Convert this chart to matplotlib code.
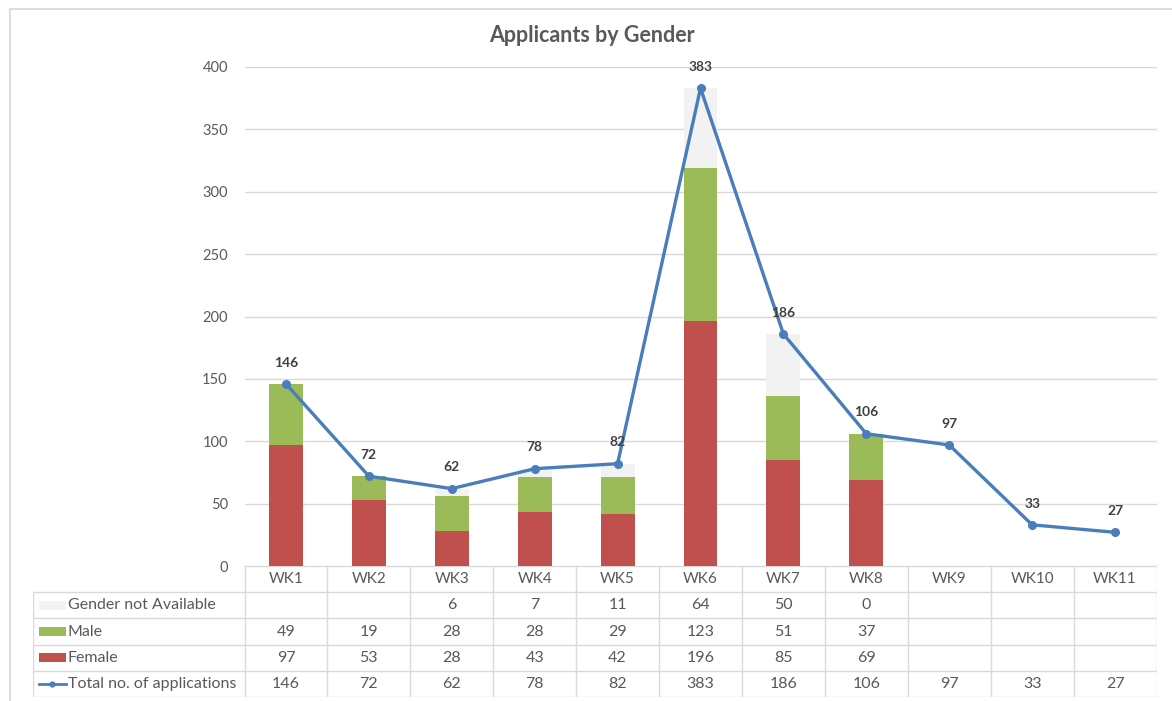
#!/usr/bin/env python3
"""Applicants by gender per week: stacked bars, total line and a data table."""
import matplotlib

matplotlib.use("Agg")
import matplotlib.pyplot as plt
from matplotlib.lines import Line2D
from matplotlib.patches import Rectangle

weeks = ["WK1", "WK2", "WK3", "WK4", "WK5", "WK6", "WK7", "WK8", "WK9", "WK10", "WK11"]
female = [97, 53, 28, 43, 42, 196, 85, 69, None, None, None]
male = [49, 19, 28, 28, 29, 123, 51, 37, None, None, None]
gender_na = [None, None, 6, 7, 11, 64, 50, 0, None, None, None]
total = [146, 72, 62, 78, 82, 383, 186, 106, 97, 33, 27]

C_FEMALE = "#C0504D"
C_MALE = "#9BBB59"
C_NA = "#F2F2F2"
C_LINE = "#4A7EBB"
C_TEXT = "#595959"
C_GRID = "#D9D9D9"

plt.rcParams["font.family"] = ["Lato", "DejaVu Sans"]

W, H = 1172, 701
fig = plt.figure(figsize=(W / 100, H / 100), dpi=100)

# chart frame: only the top and left edges fall inside the crop
fig.add_artist(Line2D([10 / W, 1], [(H - 9) / H, (H - 9) / H], transform=fig.transFigure,
                      color="#DCDCDC", linewidth=1.5))
fig.add_artist(Line2D([10 / W, 10 / W], [0, (H - 9) / H], transform=fig.transFigure,
                      color="#DCDCDC", linewidth=1.5))

# plot area, in pixel geometry of the reference
px_left, px_right, px_bottom, px_top = 244.5, 1156.5, 566, 67
ax = fig.add_axes([px_left / W, (H - px_bottom) / H,
                   (px_right - px_left) / W, (px_bottom - px_top) / H])

x = list(range(len(weeks)))
bar_w = 0.41
f_vals = [v or 0 for v in female]
m_vals = [v or 0 for v in male]
n_vals = [v or 0 for v in gender_na]
ax.bar(x, f_vals, bar_w, color=C_FEMALE, zorder=2)
ax.bar(x, m_vals, bar_w, bottom=f_vals, color=C_MALE, zorder=2)
ax.bar(x, n_vals, bar_w, bottom=[a + b for a, b in zip(f_vals, m_vals)], color=C_NA, zorder=2)
ax.plot(x, total, color=C_LINE, linewidth=2.4, marker="o", markersize=5.5, zorder=3)
for xi, t in zip(x, total):
    ax.annotate(str(t), (xi, t), xytext=(0, 11), textcoords="offset points",
                ha="center", va="bottom", fontsize=10, fontweight="bold", color="#404040")

ax.set_xlim(-0.5, len(weeks) - 0.5)
ax.set_ylim(0, 400)
ax.set_yticks(range(0, 401, 50))
ax.set_xticks([])
ax.tick_params(axis="y", length=0, labelsize=10.5, labelcolor=C_TEXT, pad=12)
ax.grid(True, axis="y", color=C_GRID, linewidth=1, zorder=0)
for s in ax.spines.values():
    s.set_visible(False)

fig.text(592 / W, (H - 36) / H, "Applicants by Gender", ha="center", va="center",
         fontsize=15.5, fontweight="bold", color=C_TEXT)

# data table below the plot
tb_left, tb_bottom = 33, 697
tax = fig.add_axes([tb_left / W, (H - tb_bottom) / H,
                    (px_right - tb_left) / W, (tb_bottom - px_bottom) / H])
unit = (px_right - px_left) / len(weeks)
x0 = -0.5 - (px_left - tb_left) / unit
nrows = 5
tax.set_xlim(x0, len(weeks) - 0.5)
tax.set_ylim(nrows, 0)
tax.axis("off")

lw = 1
tax.plot([-0.5, len(weeks) - 0.5], [0, 0], color=C_GRID, lw=lw)
for r in range(1, nrows + 1):
    tax.plot([x0, len(weeks) - 0.5], [r, r], color=C_GRID, lw=lw)
tax.plot([x0, x0], [1, nrows], color=C_GRID, lw=lw)
for i in range(len(weeks) + 1):
    tax.plot([i - 0.5, i - 0.5], [0, nrows], color=C_GRID, lw=lw)

for i, wk in enumerate(weeks):
    tax.text(i, 0.5, wk, ha="center", va="center", fontsize=11, color=C_TEXT)

rows = [
    ("Gender not Available", gender_na, "bar", C_NA),
    ("Male", male, "bar", C_MALE),
    ("Female", female, "bar", C_FEMALE),
    ("Total no. of applications", total, "line", C_LINE),
]
key_x0 = x0 + 0.07
key_x1 = x0 + 0.4
for r, (label, vals, kind, col) in enumerate(rows, start=1):
    yc = r + 0.5
    if kind == "bar":
        tax.add_patch(Rectangle((key_x0, yc - 0.18), key_x1 - key_x0, 0.36, color=col, lw=0))
    else:
        tax.add_line(Line2D([key_x0, key_x1], [yc, yc], color=col, lw=2))
        tax.plot([(key_x0 + key_x1) / 2], [yc], marker="o", markersize=3.5, color=col)
    tax.text(key_x1 + 0.02, yc, label, ha="left", va="center", fontsize=11.5, color=C_TEXT)
    for i, v in enumerate(vals):
        if v is not None:
            tax.text(i, yc, str(v), ha="center", va="center", fontsize=11.5, color=C_TEXT)

fig.savefig("out.png", dpi=100)
